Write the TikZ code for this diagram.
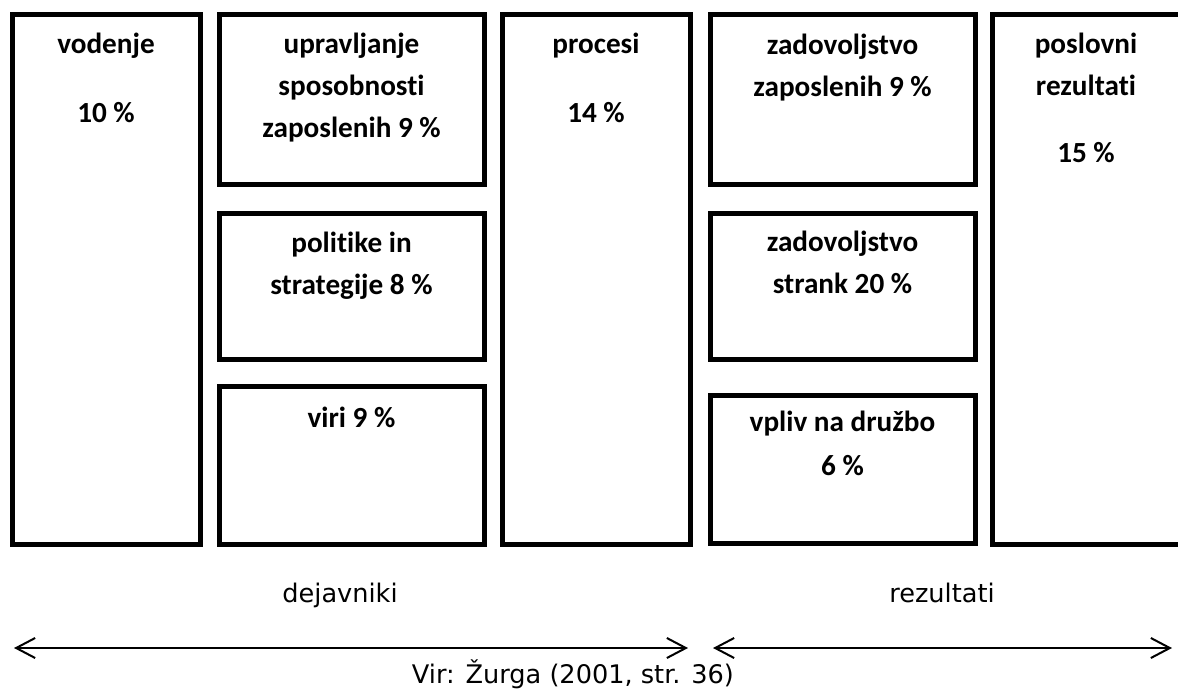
\documentclass[tikz,border=0pt]{standalone}
\usepackage{fontspec}
\setmainfont{Carlito}[Ligatures={NoCommon,NoContextual}]
\newfontfamily\virfont{DejaVu Sans}
\usetikzlibrary{arrows.meta,fit}
\newcommand{\vrstice}[1]{\begin{tabular}[t]{@{}c@{}}#1\end{tabular}}

\begin{document}
\begin{tikzpicture}[x=0.5pt,y=-0.5pt,
    okvir/.style={draw, line width=2.5pt, inner sep=0pt},
    napis/.style={font=\bfseries\fontsize{14.6}{21}\selectfont, anchor=base, inner sep=0pt},
    spodaj/.style={font=\virfont\fontsize{12.8}{15}\selectfont, anchor=base, inner sep=0pt},
    puscica/.style={line width=1pt, {Straight Barb[length=9.5pt,width=10pt]}-{Straight Barb[length=9.5pt,width=10pt]}}]
  \useasboundingbox (0,0) rectangle (1178,691);
  \clip (0,0) rectangle (1178,691);

  \node (vodenje) [okvir, fit={(12,14) (200,544)}] {};
  \node (upravljanje) [okvir, fit={(219,14) (484,184)}] {};
  \node (politike) [okvir, fit={(219,213) (484,359)}] {};
  \node (viri) [okvir, fit={(219,386) (484,544)}] {};
  \node (procesi) [okvir, fit={(502,14) (690,544)}] {};
  \node (zadzap) [okvir, fit={(710,14) (975,184)}] {};
  \node (zadstr) [okvir, fit={(710,213) (975,359)}] {};
  \node (vpliv) [okvir, fit={(710,395) (975,543)}] {};
  \node (poslovni) [okvir, fit={(992,14) (1184,544)}] {};

  \node (tvodenje) [napis] at (vodenje.north |- 0,53) {\vrstice{vodenje\\[13.5pt] 10 \%}};
  \node (tupravljanje) [napis] at (upravljanje.north |- 0,53) {\vrstice{upravljanje\\ sposobnosti\\ zaposlenih 9 \%}};
  \node (tpolitike) [napis] at (politike.north |- 0,252) {\vrstice{politike in\\ strategije 8 \%}};
  \node (tviri) [napis] at (viri.north |- 0,427) {viri 9 \%};
  \node (tprocesi) [napis] at (procesi.north |- 0,53) {\vrstice{procesi\\[13.5pt] 14 \%}};
  \node (tzadzap) [napis] at (zadzap.north |- 0,54) {\vrstice{zadovoljstvo\\ zaposlenih 9 \%}};
  \node (tzadstr) [napis] at (zadstr.north |- 0,251) {\vrstice{zadovoljstvo\\ strank 20 \%}};
  \node (tvpliv) [napis] at (vpliv.north |- 0,431) {\vrstice{vpliv na družbo\\[1pt] 6 \%}};
  \node (tposlovni) [napis] at (1086,53) {\vrstice{poslovni\\ rezultati\\[12.5pt] 15 \%}};

  \node (dejavniki) [spodaj] at (340,602) {dejavniki};
  \node (rezultati) [spodaj] at (942,602) {rezultati};
  \node (vir) [spodaj] at (573,683) {Vir: Žurga (2001, str. 36)};

  \coordinate (dzac) at (14,648);
  \coordinate (dkon) at (688,648);
  \coordinate (rzac) at (713,648);
  \coordinate (rkon) at (1172,648);
  \draw [puscica] (dzac) -- (dkon);
  \draw [puscica] (rzac) -- (rkon);
\end{tikzpicture}
\end{document}
